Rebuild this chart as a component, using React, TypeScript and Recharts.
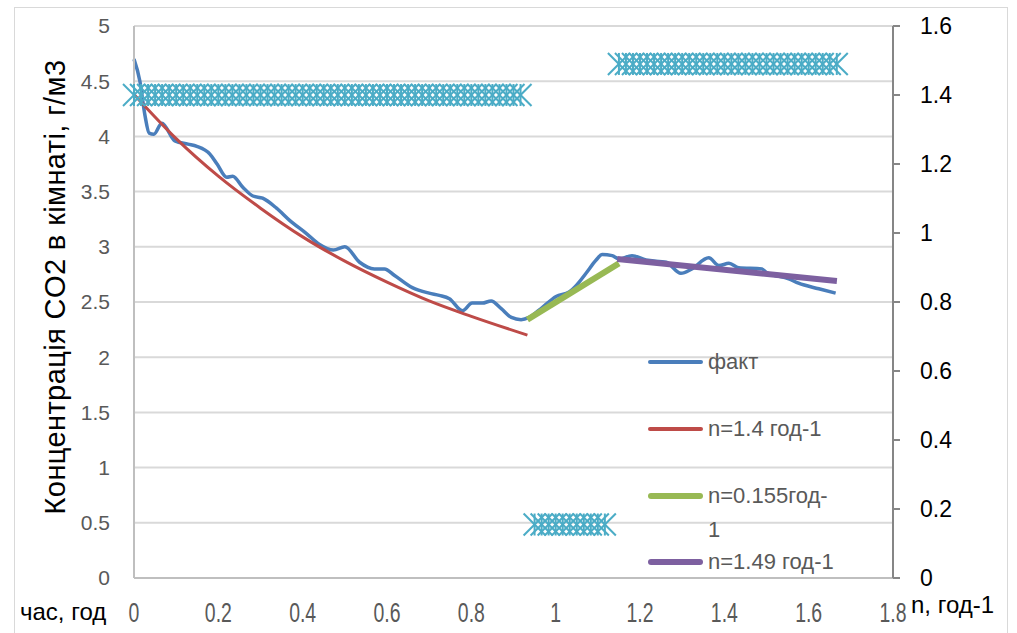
import {
  ComposedChart, Line, Scatter, XAxis, YAxis, CartesianGrid, Legend, Label,
} from 'recharts';

// Фактична концентрація CO2 (час, год -> г/м3)
const factTime = [
  0, 0.014, 0.026, 0.036, 0.047, 0.066, 0.097, 0.128, 0.149, 0.18, 0.197, 0.22,
  0.234, 0.258, 0.282, 0.305, 0.338, 0.369, 0.409, 0.44, 0.473, 0.5, 0.535, 0.57,
  0.594, 0.618, 0.66, 0.7, 0.724, 0.748, 0.779, 0.802, 0.826, 0.847, 0.871, 0.895,
  0.918, 0.937, 0.968, 1.001, 1.032, 1.049, 1.072, 1.096, 1.11, 1.134, 1.15, 1.181,
  1.214, 1.262, 1.297, 1.323, 1.363, 1.387, 1.411, 1.434, 1.489, 1.499, 1.553,
  1.576, 1.624, 1.664,
];
const factValues = [
  4.7, 4.5, 4.19, 4.03, 4.02, 4.12, 3.96, 3.93, 3.91, 3.84, 3.75, 3.63,
  3.64, 3.54, 3.46, 3.44, 3.35, 3.24, 3.12, 3.02, 2.97, 3.0, 2.86, 2.8,
  2.8, 2.74, 2.63, 2.58, 2.56, 2.53, 2.42, 2.49, 2.49, 2.51, 2.44, 2.36,
  2.34, 2.36, 2.45, 2.55, 2.59, 2.65, 2.76, 2.88, 2.93, 2.92, 2.89, 2.92,
  2.88, 2.86, 2.76, 2.8, 2.9, 2.83, 2.85, 2.81, 2.8, 2.77, 2.71,
  2.67, 2.62, 2.58,
];

// Розрахункові криві
const fit1Time = [0, 0.1, 0.2, 0.3, 0.4, 0.5, 0.6, 0.7, 0.8, 0.933];
const fit1Values = [4.38, 3.98, 3.64, 3.35, 3.09, 2.87, 2.68, 2.51, 2.37, 2.2];
const fit2Time = [0.933, 1.15];
const fit2Values = [2.34, 2.85];
const fit3Time = [1.146, 1.667];
const fit3Values = [2.89, 2.69];

// Кратність повітрообміну n (права вісь), хвилини
const nMinutes1 = [
  0, 1, 2, 3, 4, 5, 6, 7, 8, 9, 10, 11, 12, 13, 14, 15, 16, 17, 18, 19, 20, 21, 22, 23, 24, 25, 26, 27,
  28, 29, 30, 31, 32, 33, 34, 35, 36, 37, 38, 39, 40, 41, 42, 43, 44, 45, 46, 47, 48, 49, 50, 51, 52, 53, 54, 55,
];
const nMinutes2 = [57, 58, 59, 60, 61, 62, 63, 64, 65, 66, 67];
const nMinutes3 = [
  69, 70, 71, 72, 73, 74, 75, 76, 77, 78, 79, 80, 81, 82, 83, 84, 85, 86, 87, 88, 89, 90,
  91, 92, 93, 94, 95, 96, 97, 98, 99, 100,
];
const nValue1 = 1.4;
const nValue2 = 0.155;
const nValue3 = 1.49;

const xTicks = [0, 0.2, 0.4, 0.6, 0.8, 1, 1.2, 1.4, 1.6, 1.8];
const leftTicks = [0, 0.5, 1, 1.5, 2, 2.5, 3, 3.5, 4, 4.5, 5];
const rightTicks = [0, 0.2, 0.4, 0.6, 0.8, 1, 1.2, 1.4, 1.6];

const BLUE = '#4A7EBB';
const RED = '#BE4B48';
const GREEN = '#98B954';
const PURPLE = '#7D60A0';
const CYAN = '#4BACC6';

const toPoints = (xs: number[], ys: number[]) => xs.map((x, i) => ({ x, y: ys[i] }));
const nPoints = (mins: number[], v: number) => mins.map((m) => ({ x: m / 60, n: v }));

const factData = toPoints(factTime, factValues);
const fit1Data = toPoints(fit1Time, fit1Values);
const fit2Data = toPoints(fit2Time, fit2Values);
const fit3Data = toPoints(fit3Time, fit3Values);
const nData = [
  ...nPoints(nMinutes1, nValue1),
  ...nPoints(nMinutes2, nValue2),
  ...nPoints(nMinutes3, nValue3),
];

const legendItems = [
  { name: 'факт', color: BLUE, width: 4 },
  { name: 'n=1.4 год-1', color: RED, width: 4 },
  { name: 'n=0.155год-\n1', color: GREEN, width: 6 },
  { name: 'n=1.49 год-1', color: PURPLE, width: 6 },
];
const legendRowTop = [0, 67, 134, 200];

const FONT = "'Liberation Sans', Arial, sans-serif";

const StarMarker = (props: any) => {
  const { cx, cy } = props;
  const r = 11;
  return (
    <g stroke={CYAN} strokeWidth={2}>
      <line x1={cx - r} y1={cy - r} x2={cx + r} y2={cy + r} />
      <line x1={cx - r} y1={cy + r} x2={cx + r} y2={cy - r} />
      <line x1={cx} y1={cy - r} x2={cx} y2={cy + r} />
    </g>
  );
};

// вузький шрифт підписів осі часу
const NarrowTick = (props: any) => {
  const { x, y, payload } = props;
  return (
    <text
      transform={`translate(${x},${y}) scale(0.72,1)`}
      textAnchor="middle"
      dy="0.71em"
      fill="#595959"
      fontSize={27}
      fontFamily={FONT}
    >
      {payload.value}
    </text>
  );
};

const LegendBox = () => (
  <div style={{ position: 'relative', width: 230, height: 230, fontFamily: FONT }}>
    {legendItems.map((item, i) => (
      <div key={item.name} style={{ position: 'absolute', left: 0, top: legendRowTop[i], display: 'flex', alignItems: 'flex-start' }}>
        <div style={{ width: 55, height: item.width, background: item.color, borderRadius: 3, marginTop: 17 - item.width / 2 }} />
        <div style={{ marginLeft: 5, fontSize: 22, lineHeight: '34px', color: '#595959', whiteSpace: 'pre' }}>{item.name}</div>
      </div>
    ))}
  </div>
);

const AxisNotes = () => (
  <g fontFamily={FONT} fontSize={24} fill="#000">
    <text x={20} y={620}>час, год</text>
    <text x={911} y={613}>n, год-1</text>
  </g>
);

const YTitle = () => (
  <text
    x={55}
    y={287}
    transform="rotate(-90 55 287)"
    textAnchor="middle"
    dominantBaseline="central"
    fontFamily={FONT}
    fontSize={29}
    letterSpacing={0.4}
    fill="#000"
  >
    Концентрація CO2 в кімнаті, г/м3
  </text>
);

const App = () => {
  return (
    <div style={{ position: 'absolute', left: 0, top: 0, width: 1017, height: 633, background: '#fff', overflow: 'hidden' }}>
      <div style={{ position: 'absolute', left: 14, top: 7, width: 994, height: 660, border: '1.5px solid #D9D9D9', boxSizing: 'border-box' }} />
      <ComposedChart width={1017} height={633} margin={{ top: 26, right: 0, left: 14, bottom: 0 }}>
        <CartesianGrid yAxisId="left" vertical={false} stroke="#D9D9D9" strokeWidth={2} />
        <XAxis
          type="number"
          dataKey="x"
          domain={[0, 1.8]}
          ticks={xTicks}
          interval={0}
          height={55}
          axisLine={{ stroke: '#BFBFBF', strokeWidth: 2 }}
          tickLine={false}
          tickSize={0}
          tickMargin={25}
          tick={<NarrowTick />}
          label={<AxisNotes />}
        />
        <YAxis
          yAxisId="left"
          domain={[0, 5]}
          ticks={leftTicks}
          interval={0}
          width={120}
          axisLine={{ stroke: '#BFBFBF', strokeWidth: 2 }}
          tickLine={false}
          tickSize={0}
          tickMargin={24}
          tick={{ fill: '#595959', fontSize: 21, fontFamily: FONT }}
        >
          <Label content={<YTitle />} />
        </YAxis>
        <YAxis
          yAxisId="right"
          orientation="right"
          domain={[0, 1.6]}
          ticks={rightTicks}
          interval={0}
          width={124}
          axisLine={{ stroke: '#868686', strokeWidth: 2 }}
          tickLine={{ stroke: '#868686', strokeWidth: 2 }}
          tickSize={7}
          tickMargin={20}
          tick={{ fill: '#000', fontSize: 23, fontFamily: FONT }}
        />
        <Scatter
          yAxisId="right"
          data={nData}
          dataKey="n"
          shape={<StarMarker />}
          isAnimationActive={false}
          legendType="none"
        />
        <Line yAxisId="left" data={factData} dataKey="y" name="факт" type="monotone" stroke={BLUE} strokeWidth={3.5} dot={false} isAnimationActive={false} />
        <Line yAxisId="left" data={fit1Data} dataKey="y" name="n=1.4 год-1" type="monotone" stroke={RED} strokeWidth={3} dot={false} isAnimationActive={false} />
        <Line yAxisId="left" data={fit2Data} dataKey="y" name="n=0.155год-1" type="linear" stroke={GREEN} strokeWidth={6} dot={false} isAnimationActive={false} />
        <Line yAxisId="left" data={fit3Data} dataKey="y" name="n=1.49 год-1" type="linear" stroke={PURPLE} strokeWidth={6} dot={false} isAnimationActive={false} />
        <Legend
          layout="vertical"
          align="center"
          verticalAlign="middle"
          content={<LegendBox />}
          wrapperStyle={{ position: 'absolute', left: 648, top: 345, width: 230, height: 230 }}
        />
      </ComposedChart>
    </div>
  );
};

export default App;
